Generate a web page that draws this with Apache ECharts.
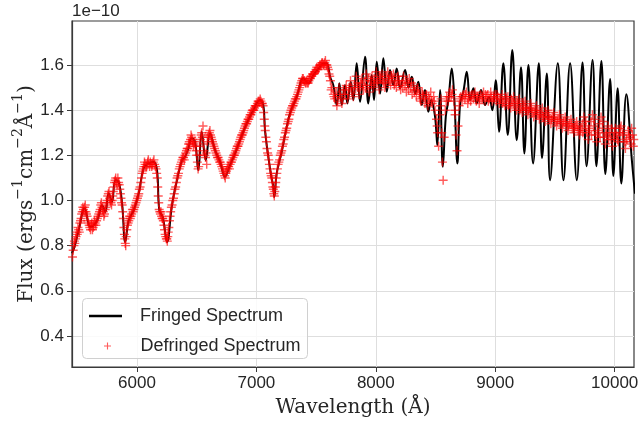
<!DOCTYPE html>
<html><head><meta charset="utf-8">
<script src="https://cdn.jsdelivr.net/npm/echarts@6/dist/echarts.min.js"></script>
<style>html,body{margin:0;padding:0;background:#fff}#c{width:641px;height:423px}</style>
</head><body><div id="c"></div>
<script>
const xTicks = [6000, 7000, 8000, 9000, 10000];
const yTicks = [0.4, 0.6, 0.8, 1.0, 1.2, 1.4, 1.6];
const xRange = [5456, 10162];
const yRange = [0.2625, 1.795];

// Fringed spectrum [wavelength (Å), flux (1e-10)]
const fringed = [[5456,0.766],[5480,0.80],[5512,0.868],[5562,0.966],[5609,0.883],[5638,0.890],[5674,0.921],[5707,0.979],[5735,0.949],[5763,1.032],[5791,0.994],[5819,1.090],[5847,1.082],[5875,0.988],[5902,0.816],[5931,0.913],[5973,0.957],[6015,1.032],[6056,1.143],[6098,1.165],[6140,1.171],[6168,1.134],[6187,0.957],[6216,0.927],[6252,0.816],[6293,0.979],[6335,1.090],[6377,1.179],[6402,1.193],[6430,1.23],[6458,1.276],[6486,1.260],[6514,1.134],[6542,1.304],[6576,1.179],[6612,1.297],[6654,1.223],[6696,1.171],[6737,1.105],[6779,1.157],[6821,1.208],[6863,1.267],[6919,1.341],[6974,1.400],[7030,1.445],[7058,1.423],[7072,1.312],[7100,1.193],[7123,1.112],[7142,1.060],[7150,1.016],[7170,1.120],[7212,1.216],[7254,1.326],[7282,1.387],[7309,1.423],[7338,1.459],[7393,1.541],[7435,1.519],[7477,1.556],[7533,1.592],[7561,1.608],[7589,1.608],[7617,1.548],[7644,1.511],[7673,1.423],[7695,1.519],[7715,1.423],[7742,1.511],[7762,1.430],[7790,1.526],[7812,1.445],[7840,1.608],[7868,1.437],[7910,1.637],[7937,1.430],[7966,1.556],[7985,1.445],[8008,1.615],[8036,1.474],[8063,1.630],[8092,1.482],[8119,1.578],[8147,1.511],[8175,1.585],[8203,1.497],[8245,1.578],[8273,1.500],[8301,1.548],[8329,1.474],[8356,1.526],[8385,1.423],[8412,1.489],[8440,1.393],[8463,1.445],[8496,1.371],[8515,1.245],[8538,1.489],[8561,1.149],[8586,1.371],[8608,1.445],[8636,1.585],[8658,1.445],[8683,1.164],[8706,1.430],[8733,1.482],[8762,1.570],[8789,1.445],[8817,1.497],[8845,1.430],[8881,1.489],[8915,1.423],[8948,1.459],[8976,1.40],[9004,1.533],[9032,1.304],[9068,1.608],[9105,1.29],[9143,1.667],[9180,1.267],[9216,1.59],[9244,1.208],[9278,1.600],[9317,1.164],[9365,1.608],[9392,1.188],[9432,1.563],[9459,1.090],[9524,1.608],[9571,1.090],[9627,1.608],[9683,1.090],[9731,1.611],[9765,1.152],[9815,1.622],[9847,1.152],[9889,1.618],[9922,1.117],[9962,1.538],[9989,1.108],[10025,1.497],[10056,1.075],[10098,1.471],[10144,1.179],[10170,1.03]];

// Defringed spectrum [wavelength (Å), flux (1e-10)], first set of readings
const defringedA = [[5460,0.75],[5466,0.78],[5472,0.80],[5480,0.81],[5490,0.84],[5500,0.85],[5512,0.87],[5522,0.90],[5532,0.92],[5542,0.95],[5552,0.96],[5562,0.97],[5572,0.95],[5582,0.93],[5594,0.90],[5605,0.88],[5616,0.89],[5627,0.87],[5638,0.89],[5650,0.90],[5662,0.91],[5674,0.93],[5686,0.95],[5697,0.98],[5707,0.97],[5718,0.95],[5728,0.94],[5740,0.97],[5750,1.00],[5760,1.03],[5772,1.01],[5782,0.99],[5792,1.00],[5802,1.04],[5812,1.08],[5822,1.10],[5834,1.07],[5846,1.08],[5856,1.05],[5866,1.01],[5876,0.98],[5886,0.92],[5895,0.85],[5902,0.81],[5910,0.84],[5920,0.89],[5932,0.91],[5944,0.92],[5956,0.94],[5968,0.95],[5980,0.97],[5992,0.99],[6004,1.01],[6015,1.03],[6026,1.06],[6038,1.10],[6048,1.13],[6058,1.15],[6068,1.16],[6080,1.15],[6090,1.17],[6100,1.16],[6112,1.17],[6124,1.15],[6136,1.17],[6148,1.16],[6160,1.14],[6170,1.10],[6178,1.02],[6186,0.96],[6196,0.94],[6206,0.93],[6216,0.92],[6226,0.89],[6236,0.85],[6246,0.83],[6254,0.82],[6262,0.86],[6272,0.91],[6282,0.95],[6294,0.98],[6306,1.01],[6318,1.05],[6330,1.08],[6342,1.11],[6354,1.14],[6366,1.16],[6378,1.18],[6390,1.19],[6402,1.20],[6414,1.22],[6426,1.23],[6438,1.26],[6448,1.27],[6458,1.28],[6468,1.26],[6478,1.25],[6490,1.24],[6500,1.20],[6512,1.14],[6522,1.20],[6532,1.27],[6542,1.30],[6553,1.33],[6562,1.22],[6574,1.19],[6584,1.16],[6594,1.28],[6606,1.30],[6616,1.29],[6626,1.27],[6638,1.25],[6650,1.23],[6662,1.21],[6674,1.19],[6686,1.18],[6698,1.17],[6710,1.15],[6722,1.13],[6734,1.11],[6744,1.12],[6756,1.14],[6768,1.15],[6780,1.16],[6792,1.17],[6804,1.19],[6816,1.20],[6828,1.22],[6840,1.24],[6852,1.25],[6864,1.27],[6876,1.29],[6888,1.30],[6900,1.32],[6912,1.34],[6924,1.35],[6936,1.36],[6948,1.38],[6960,1.39],[6972,1.40],[6984,1.41],[6996,1.42],[7008,1.43],[7020,1.44],[7032,1.45],[7044,1.43],[7056,1.42],[7066,1.36],[7074,1.31],[7084,1.26],[7094,1.21],[7104,1.18],[7114,1.14],[7124,1.11],[7134,1.08],[7142,1.05],[7150,1.02],[7158,1.06],[7166,1.10],[7176,1.14],[7188,1.17],[7200,1.20],[7212,1.22],[7224,1.25],[7236,1.28],[7248,1.31],[7260,1.34],[7272,1.36],[7284,1.39],[7296,1.41],[7308,1.42],[7320,1.44],[7332,1.45],[7344,1.47],[7356,1.49],[7368,1.51],[7380,1.53],[7392,1.54],[7404,1.53],[7416,1.52],[7428,1.52],[7440,1.53],[7452,1.54],[7464,1.55],[7476,1.56],[7488,1.57],[7500,1.58],[7512,1.58],[7524,1.59],[7536,1.60],[7548,1.61],[7560,1.60],[7572,1.61],[7584,1.60],[7596,1.59],[7608,1.56],
[7620,1.53],[7632,1.50],[7644,1.47],[7656,1.45],[7668,1.48],[7680,1.44],[7692,1.50],[7704,1.46],[7716,1.43],[7728,1.49],[7740,1.47],[7752,1.51],[7764,1.45],[7776,1.50],[7788,1.53],[7800,1.48],[7812,1.46],[7824,1.51],[7836,1.55],[7848,1.50],[7860,1.47],[7872,1.52],[7884,1.54],[7896,1.49],[7908,1.53],[7920,1.56],[7932,1.51],[7944,1.48],[7956,1.53],[7968,1.55],[7980,1.50],[7992,1.52],[8004,1.57],[8016,1.53],[8028,1.49],[8040,1.54],[8052,1.56],[8064,1.52],[8076,1.50],[8088,1.55],[8100,1.57],[8112,1.53],[8124,1.51],[8136,1.54],[8148,1.56],[8160,1.52],[8172,1.50],[8184,1.55],[8196,1.53],[8208,1.49],[8220,1.52],[8232,1.55],[8244,1.51],[8256,1.48],[8268,1.52],[8280,1.54],[8292,1.50],[8304,1.47],[8316,1.51],[8328,1.49],[8340,1.46],[8352,1.50],[8364,1.47],[8376,1.44],[8388,1.48],[8400,1.46],[8412,1.43],[8424,1.47],[8436,1.42],[8448,1.45],[8460,1.48],[8472,1.43],[8484,1.46],[8496,1.40],[8508,1.36],[8518,1.30],[8526,1.24],[8536,1.38],[8546,1.45],[8552,1.30],[8558,1.17],[8564,1.09],[8572,1.28],[8582,1.40],[8594,1.46],[8606,1.44],[8618,1.48],[8630,1.46],[8642,1.49],[8654,1.44],[8664,1.38],[8672,1.29],[8680,1.22],[8688,1.33],[8698,1.42],[8710,1.46],[8722,1.44],[8734,1.47],[8746,1.45],[8758,1.48],[8770,1.43],[8782,1.46],[8794,1.44],[8806,1.47],[8818,1.45],[8830,1.48],[8842,1.44],[8854,1.46],[8866,1.43],[8878,1.47],[8890,1.45],[8902,1.48],[8914,1.44],[8926,1.46],[8938,1.47],[8950,1.45],[8962,1.48],[8974,1.44],[8986,1.46],[8998,1.47],[9010,1.44],[9022,1.46],[9034,1.43],[9046,1.45],[9058,1.47],[9070,1.44],[9082,1.42],[9094,1.45],[9106,1.46],[9118,1.43],[9130,1.41],[9142,1.44],[9154,1.46],[9166,1.42],[9178,1.40],[9190,1.43],[9202,1.45],[9214,1.41],[9226,1.39],[9238,1.42],[9250,1.44],[9262,1.40],[9274,1.38],[9286,1.41],[9298,1.43],[9310,1.39],[9322,1.37],[9334,1.40],[9346,1.42],[9358,1.38],[9370,1.36],[9382,1.39],[9394,1.41],[9406,1.37],[9418,1.35],[9430,1.38],[9442,1.40],[9454,1.36],[9466,1.34],[9478,1.37],[9490,1.39],[9502,1.35],[9514,1.33],[9526,1.36],[9538,1.38],[9550,1.34],[9562,1.32],[9574,1.35],[9586,1.37],[9598,1.33],[9610,1.31],[9622,1.34],[9634,1.36],[9646,1.32],[9658,1.30],[9670,1.33],[9682,1.35],[9694,1.31],[9706,1.29],[9718,1.32],[9730,1.34],[9742,1.37],[9754,1.33],[9766,1.30],[9778,1.27],[9790,1.31],[9802,1.35],[9814,1.38],[9826,1.33],[9838,1.29],[9850,1.26],[9862,1.30],[9874,1.34],[9886,1.37],[9898,1.32],[9910,1.28],[9922,1.25],[9934,1.29],[9946,1.33],[9958,1.30],[9970,1.27],[9982,1.24],[9994,1.28],[10006,1.32],[10018,1.29],[10030,1.26],[10042,1.30],[10054,1.33],[10066,1.29],[10078,1.26],[10090,1.23],[10102,1.27],[10114,1.31],[10126,1.28],[10138,1.25],[10150,1.29],[10160,1.27]];

// Defringed spectrum, second set of readings (in between)
const defringedB = [[5476,0.82],[5486,0.83],[5496,0.86],[5506,0.88],[5517,0.86],[5527,0.91],[5537,0.94],[5547,0.97],[5557,0.95],[5567,0.98],[5577,0.94],[5588,0.91],[5600,0.89],[5611,0.87],[5622,0.90],[5633,0.88],[5644,0.91],[5656,0.89],[5668,0.92],[5680,0.94],[5692,0.96],[5702,0.99],[5713,0.96],[5723,0.93],[5734,0.96],[5745,0.99],[5755,1.02],[5766,1.04],[5777,1.00],[5787,0.98],[5797,1.02],[5807,1.06],[5817,1.09],[5828,1.08],[5840,1.10],[5851,1.07],[5861,1.03],[5871,0.99],[5881,0.95],[5891,0.88],[5898,0.83],[5906,0.80],[5915,0.87],[5926,0.90],[5938,0.93],[5950,0.93],[5962,0.96],[5974,0.96],[5986,0.98],[5998,1.00],[6010,1.02],[6020,1.05],[6032,1.08],[6043,1.12],[6053,1.14],[6063,1.17],[6074,1.15],[6085,1.16],[6095,1.18],[6106,1.15],[6118,1.16],[6130,1.16],[6142,1.18],[6154,1.15],[6165,1.12],[6174,1.06],[6182,0.99],[6191,0.95],[6201,0.95],[6211,0.92],[6221,0.91],[6231,0.87],[6241,0.84],[6250,0.83],[6258,0.84],[6267,0.88],[6277,0.93],[6288,0.97],[6300,1.00],[6312,1.03],[6324,1.06],[6336,1.10],[6348,1.12],[6360,1.15],[6372,1.17],[6384,1.19],[6396,1.18],[6408,1.21],[6420,1.23],[6432,1.25],[6443,1.25],[6453,1.29],[6463,1.27],[6473,1.24],[6484,1.26],[6495,1.22],[6506,1.17],[6517,1.15],[6527,1.24],[6537,1.29],[6547,1.28],[6557,1.25],[6568,1.20],[6579,1.21],[6589,1.26],[6600,1.29],[6611,1.31],[6621,1.28],[6632,1.26],[6644,1.24],[6656,1.22],[6668,1.20],[6680,1.19],[6692,1.17],[6704,1.16],[6716,1.14],[6728,1.12],[6739,1.10],[6750,1.13],[6762,1.15],[6774,1.14],[6786,1.17],[6798,1.18],[6810,1.20],[6822,1.21],[6834,1.23],[6846,1.24],[6858,1.26],[6870,1.28],[6882,1.29],[6894,1.31],[6906,1.33],[6918,1.34],[6930,1.36],[6942,1.37],[6954,1.38],[6966,1.40],[6978,1.40],[6990,1.42],[7002,1.42],[7014,1.44],[7026,1.44],[7038,1.44],[7050,1.43],[7061,1.39],[7070,1.33],[7079,1.28],[7089,1.23],[7099,1.20],[7109,1.16],[7119,1.12],[7129,1.10],[7138,1.06],[7146,1.03],[7154,1.04],[7162,1.08],[7171,1.12],[7182,1.16],[7194,1.18],[7206,1.21],[7218,1.24],[7230,1.27],[7242,1.30],[7254,1.32],[7266,1.35],[7278,1.38],[7290,1.40],[7302,1.42],[7314,1.43],[7326,1.45],[7338,1.46],[7350,1.48],[7362,1.50],[7374,1.52],[7386,1.54],[7398,1.53],[7410,1.52],[7422,1.53],[7434,1.52],[7446,1.54],[7458,1.55],[7470,1.56],[7482,1.56],[7494,1.57],[7506,1.59],[7518,1.58],[7530,1.60],[7542,1.60],[7554,1.61],[7566,1.60],[7578,1.62],[7590,1.60],[7602,1.58],[7614,1.55],
[7626,1.49],[7650,1.46],[7674,1.42],[7698,1.47],[7722,1.45],[7746,1.49],[7770,1.47],[7794,1.50],[7818,1.49],[7842,1.52],[7866,1.50],[7890,1.51],[7914,1.50],[7938,1.54],[7962,1.51],[7986,1.54],[8010,1.52],[8034,1.55],[8058,1.53],[8082,1.52],[8106,1.54],[8130,1.55],[8154,1.51],[8178,1.53],[8202,1.51],[8226,1.50],[8250,1.53],[8274,1.49],[8298,1.52],[8322,1.48],[8346,1.49],[8370,1.45],[8394,1.47],[8418,1.45],[8442,1.46],[8466,1.44],[8490,1.44],[8514,1.33],[8542,1.42],[8590,1.44],[8614,1.46],[8638,1.47],[8662,1.40],[8702,1.45],[8726,1.46],[8750,1.47],[8774,1.45],[8798,1.46],[8822,1.47],[8846,1.46],[8870,1.45],[8894,1.46],[8918,1.47],[8942,1.44],[8966,1.46],[8990,1.45],[9014,1.47],[9038,1.45],[9062,1.43],[9086,1.46],[9110,1.42],[9134,1.45],[9158,1.43],[9182,1.44],[9206,1.40],[9230,1.43],[9254,1.41],[9278,1.40],[9302,1.41],[9326,1.39],[9350,1.40],[9374,1.38],[9398,1.37],[9422,1.39],[9446,1.37],[9470,1.36],[9494,1.37],[9518,1.35],[9542,1.36],[9566,1.34],[9590,1.35],[9614,1.33],[9638,1.34],[9662,1.32],[9686,1.33],[9710,1.31],[9734,1.30],[9758,1.35],[9782,1.32],[9806,1.29],[9830,1.36],[9854,1.31],[9878,1.28],[9902,1.35],[9926,1.30],[9950,1.27],[9974,1.32],[9998,1.30],[10022,1.27],[10046,1.32],[10070,1.30],[10094,1.26],[10118,1.29],[10142,1.32],[10156,1.24]];

const plus = 'path://M0,4.2H10V5.8H0Z M4.2,0H5.8V10H4.2Z';
const lineIcon = 'path://M0,0H40V3H0Z';
const spine = '#3a3a3a', txt = '#262626', grid = '#dedede';
const tickFont = 'Liberation Sans';

const chart = echarts.init(document.getElementById('c'));
chart.setOption({
  animation: false,
  backgroundColor: '#ffffff',
  grid: {left: 72, right: 7, top: 21, bottom: 56, containLabel: false, outerBoundsMode: 'none',
         show: true, borderColor: spine, borderWidth: 1.2, backgroundColor: 'transparent'},
  xAxis: {
    type: 'value', min: xRange[0], max: xRange[1], splitNumber: 5,
    name: 'Wavelength (Å)', nameLocation: 'middle', nameGap: 31, nameMoveOverlap: false,
    nameTextStyle: {fontFamily: 'DejaVu Serif', fontSize: 20, color: txt},
    axisLine: {show: true, lineStyle: {color: spine, width: 1.2}},
    axisTick: {show: true, length: 5, customValues: xTicks, lineStyle: {color: spine, width: 1}},
    axisLabel: {customValues: xTicks, fontFamily: tickFont, fontSize: 17, color: txt, margin: 8,
      formatter: v => String(Math.round(v))},
    splitLine: {show: true, lineStyle: {color: grid, width: 1}}
  },
  yAxis: {
    type: 'value', min: yRange[0], max: yRange[1], splitNumber: 8,
    name: '{a|Flux (ergs}{s|−1}{a|cm}{s|−2}{a|Å}{s|−1}{a|)}',
    nameLocation: 'middle', nameGap: 35, nameRotate: 90, nameMoveOverlap: false,
    nameTextStyle: {rich: {
      a: {fontFamily: 'DejaVu Serif', fontSize: 20, color: txt, lineHeight: 26, verticalAlign: 'bottom'},
      s: {fontFamily: 'DejaVu Serif', fontSize: 14, color: txt, verticalAlign: 'top'}
    }},
    axisLine: {show: true, lineStyle: {color: spine, width: 1.2}},
    axisTick: {show: true, length: 5, customValues: yTicks, lineStyle: {color: spine, width: 1}},
    axisLabel: {customValues: yTicks, fontFamily: tickFont, fontSize: 17, color: txt, margin: 8,
      formatter: v => v.toFixed(1)},
    splitLine: {show: true, lineStyle: {color: grid, width: 1}}
  },
  legend: [
    {data: [{name: 'Fringed Spectrum', icon: lineIcon}], left: 89, top: 307, padding: 0, itemWidth: 33, itemHeight: 14,
     selectedMode: false, itemStyle: {color: '#000'},
     textStyle: {fontFamily: tickFont, fontSize: 18, color: txt, padding: [0, 0, 0, 13]}},
    {data: [{name: 'Defringed Spectrum', icon: plus}], left: 104, top: 337, padding: 0, itemWidth: 36, itemHeight: 7,
     selectedMode: false,
     textStyle: {fontFamily: tickFont, fontSize: 18, color: txt, padding: [0, 0, 0, 10]}}
  ],
  graphic: [
    {type: 'rect', left: 82, top: 298, z: 3, shape: {width: 225, height: 60, r: 4},
     style: {fill: 'rgba(255,255,255,0.85)', stroke: '#d0d0d0', lineWidth: 1}},
    {type: 'text', left: 72, top: 3, z: 5, style: {text: '1e−10', font: '17px "Liberation Sans"', fill: txt}}
  ],
  series: [
    {name: 'Fringed Spectrum', type: 'line', data: fringed, showSymbol: false, symbol: 'none',
     smooth: 0.4, clip: true, lineStyle: {color: '#000000', width: 2}, itemStyle: {color: '#000000'}, z: 2},
    {name: 'Defringed Spectrum', type: 'scatter', data: defringedA.concat(defringedB), symbol: plus, symbolSize: 9,
     clip: true, itemStyle: {color: 'rgba(255,0,0,0.8)'}, z: 2}
  ]
});
</script></body></html>
